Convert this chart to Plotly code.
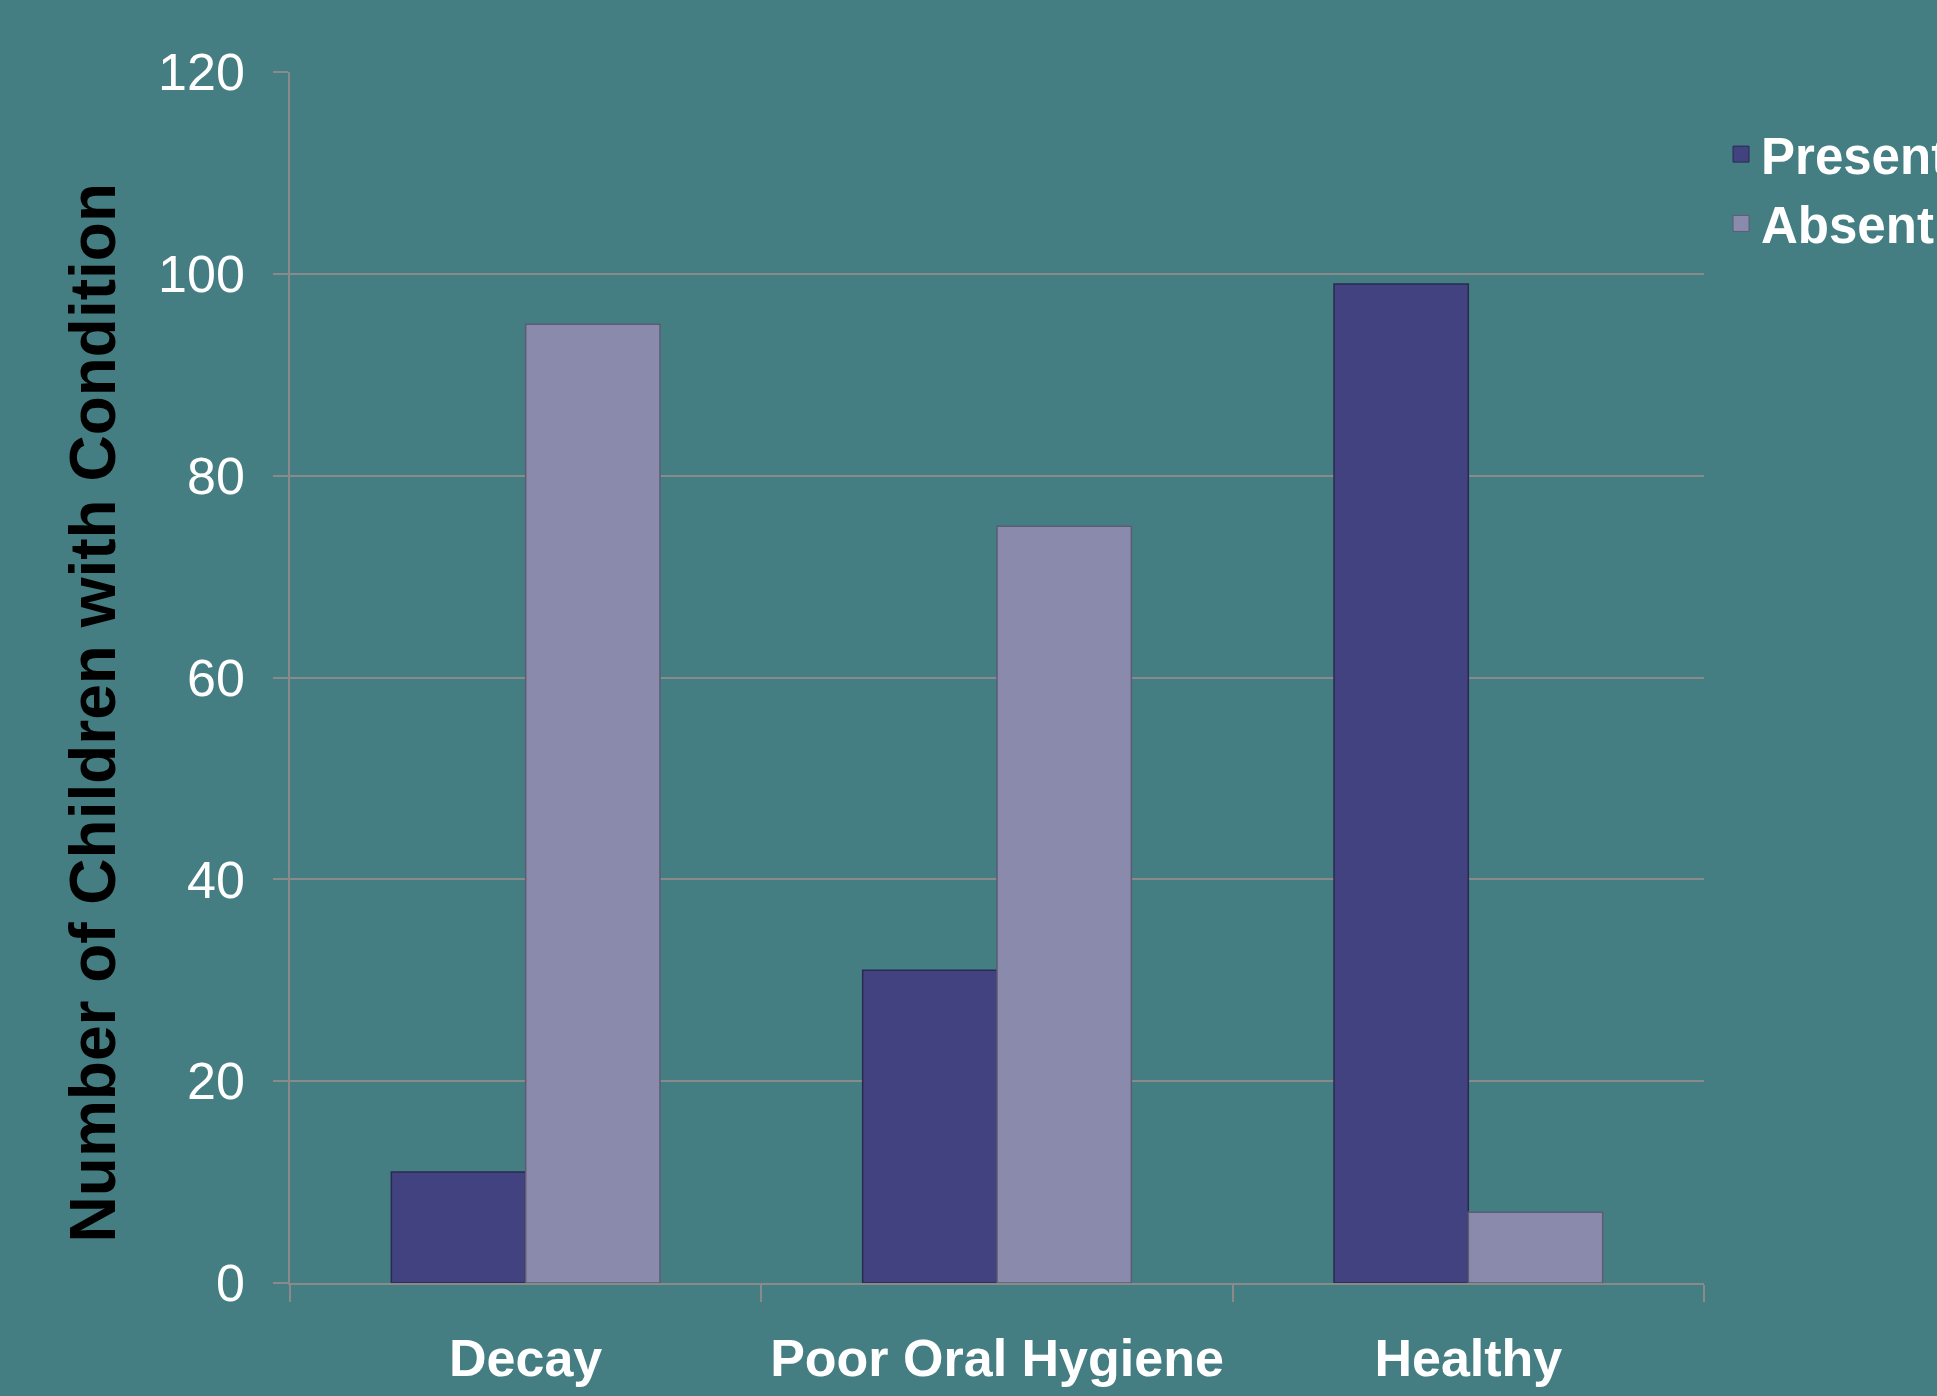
import plotly.graph_objects as go

# Data: number of children with each oral-health condition
categories = ["Decay", "Poor Oral Hygiene", "Healthy"]
present = [11, 31, 99]
absent = [95, 75, 7]
y_ticks = [0, 20, 40, 60, 80, 100, 120]

BG = "#447e83"
GRID = "#8a8a8a"
FONT = "Liberation Sans, Arial, sans-serif"
PRESENT_FILL, PRESENT_EDGE = "#424280", "#2a2a50"
ABSENT_FILL, ABSENT_EDGE = "#8a8bac", "#5c5c74"

fig = go.Figure()
fig.add_trace(go.Bar(
    name="Present", x=categories, y=present, legendgroup="present",
    showlegend=False,
    marker=dict(color=PRESENT_FILL, line=dict(color=PRESENT_EDGE, width=1.5)),
))
fig.add_trace(go.Bar(
    name="Absent", x=categories, y=absent, legendgroup="absent",
    showlegend=False,
    marker=dict(color=ABSENT_FILL, line=dict(color=ABSENT_EDGE, width=1.5)),
))

# Legend keys drawn as larger square markers tied to the bar series
for name, group, fill, edge in [("Present", "present", PRESENT_FILL, PRESENT_EDGE),
                                ("Absent", "absent", ABSENT_FILL, ABSENT_EDGE)]:
    fig.add_trace(go.Scatter(
        name=name, x=[None], y=[None], mode="markers", legendgroup=group,
        marker=dict(symbol="square", size=16, color=fill,
                    line=dict(color=edge, width=1)),
    ))

fig.update_layout(
    width=1937, height=1396,
    paper_bgcolor=BG, plot_bgcolor=BG,
    margin=dict(l=290, r=233, t=72, b=113),
    barmode="group", bargap=0.43, bargroupgap=0,
    font=dict(family=FONT, color="white"),
    showlegend=True,
    legend=dict(
        xref="container", yref="container",
        x=0.8885, y=0.918, xanchor="left", yanchor="top",
        font=dict(size=51, family=FONT, color="white", weight="bold"),
        bgcolor="rgba(0,0,0,0)", itemwidth=30, tracegroupgap=0,
        itemsizing="trace",
    ),
    xaxis=dict(
        automargin=False,
        showgrid=False, showline=True, linecolor=GRID, linewidth=1.5,
        ticks="outside", tickson="boundaries", ticklen=17, tickcolor=GRID,
        tickwidth=1.5, ticklabelstandoff=29,
        tickfont=dict(size=52, family=FONT, color="white", weight="bold"),
    ),
    yaxis=dict(
        automargin=False,
        range=[0, 120], tickvals=y_ticks, showgrid=True, gridcolor=GRID,
        gridwidth=1.5, showline=True, linecolor=GRID, linewidth=1.5,
        ticks="outside", ticklen=15, tickcolor=GRID, tickwidth=1.5,
        ticklabelstandoff=18, zeroline=False,
        tickfont=dict(size=52, family=FONT, color="white"),
    ),
    annotations=[dict(
        text="Number of Children with Condition",
        xref="paper", yref="paper", x=-0.139, y=0.4707,
        xanchor="center", yanchor="middle", textangle=-90, showarrow=False,
        font=dict(size=64, family=FONT, color="black", weight="bold"),
    )],
)

fig.write_html("out.html")
